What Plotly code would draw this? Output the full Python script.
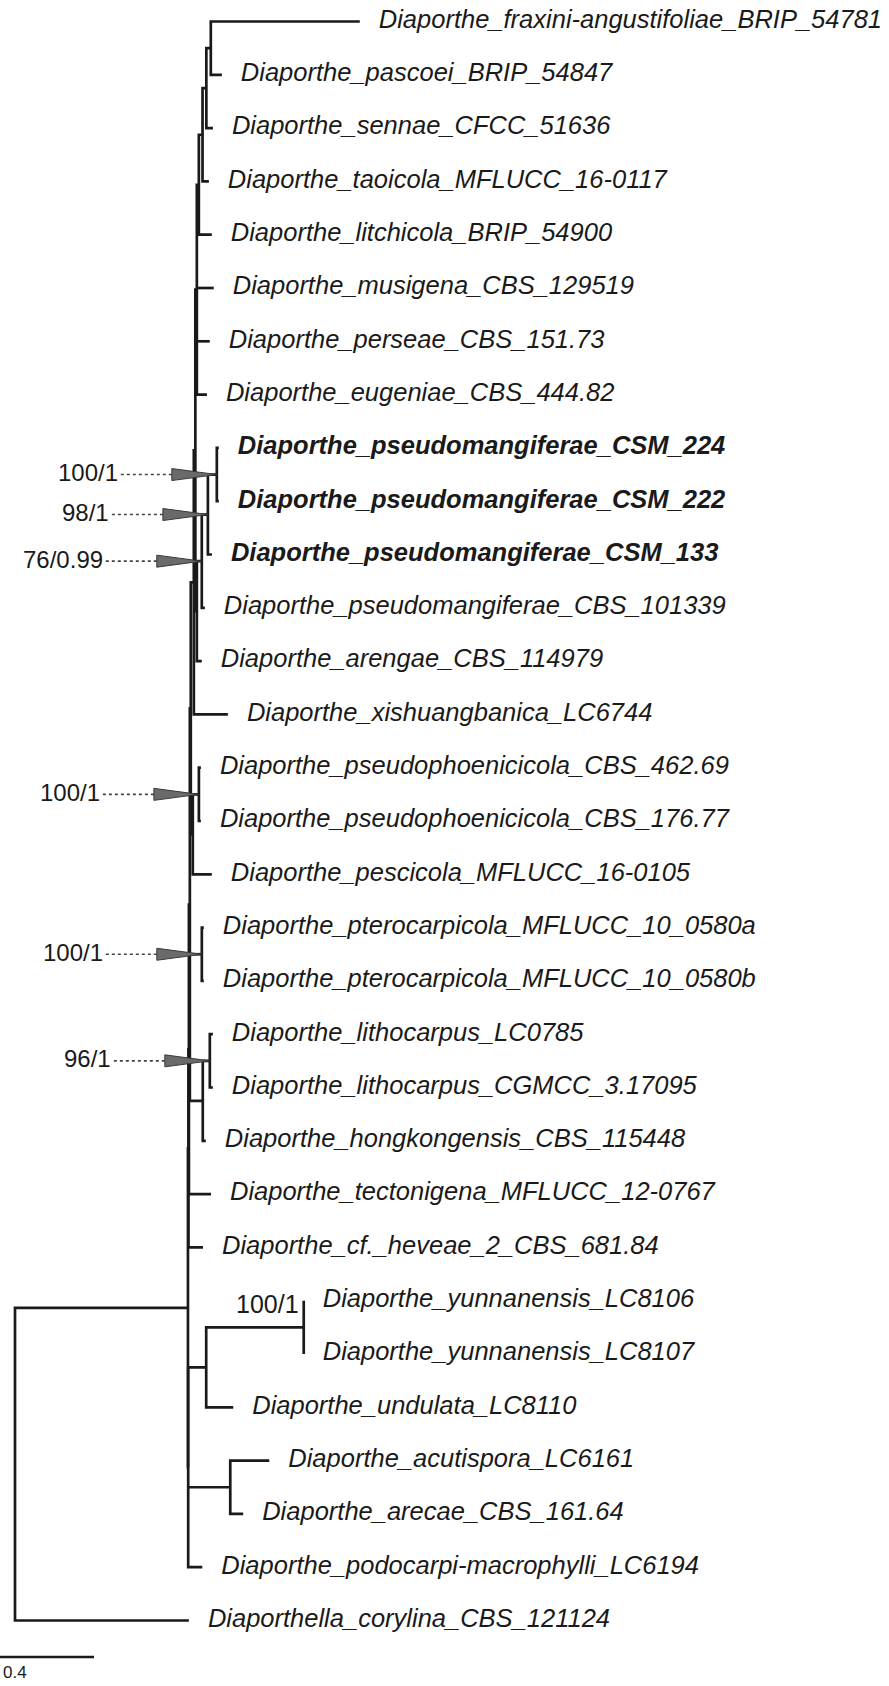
import plotly.graph_objects as go

# ---------------- data ----------------
node_names = [
    "root", "I", "A", "R3", "R2", "R1", "P5", "U", "N4", "N3b", "N3", "N2", "N1",
    "Diaporthe_fraxini-angustifoliae_BRIP_54781", "Diaporthe_pascoei_BRIP_54847",
    "Diaporthe_sennae_CFCC_51636", "Diaporthe_taoicola_MFLUCC_16-0117",
    "Diaporthe_litchicola_BRIP_54900", "Diaporthe_musigena_CBS_129519",
    "Diaporthe_perseae_CBS_151.73", "Diaporthe_eugeniae_CBS_444.82",
    "P4", "P3", "P2", "P1",
    "Diaporthe_pseudomangiferae_CSM_224", "Diaporthe_pseudomangiferae_CSM_222",
    "Diaporthe_pseudomangiferae_CSM_133", "Diaporthe_pseudomangiferae_CBS_101339",
    "Diaporthe_arengae_CBS_114979", "Diaporthe_xishuangbanica_LC6744",
    "Q", "PP", "Diaporthe_pseudophoenicicola_CBS_462.69", "Diaporthe_pseudophoenicicola_CBS_176.77",
    "Diaporthe_pescicola_MFLUCC_16-0105",
    "PT", "Diaporthe_pterocarpicola_MFLUCC_10_0580a", "Diaporthe_pterocarpicola_MFLUCC_10_0580b",
    "L1", "LI", "Diaporthe_lithocarpus_LC0785", "Diaporthe_lithocarpus_CGMCC_3.17095",
    "Diaporthe_hongkongensis_CBS_115448",
    "Diaporthe_tectonigena_MFLUCC_12-0767", "Diaporthe_cf._heveae_2_CBS_681.84",
    "B",
    "YU", "YN", "Diaporthe_yunnanensis_LC8106", "Diaporthe_yunnanensis_LC8107",
    "Diaporthe_undulata_LC8110",
    "AA", "Diaporthe_acutispora_LC6161", "Diaporthe_arecae_CBS_161.64",
    "Diaporthe_podocarpi-macrophylli_LC6194",
    "Diaporthella_corylina_CBS_121124",
]
node_parents = [
    None, "root", "I", "A", "R3", "R2", "R1", "P5", "U", "N4", "N3b", "N3", "N2",
    "N1", "N1",
    "N2", "N3",
    "N3b", "N4",
    "N4", "N4",
    "U", "P4", "P3", "P2",
    "P1", "P1",
    "P2", "P3",
    "P4", "P5",
    "R1", "Q", "PP", "PP",
    "Q",
    "R2", "PT", "PT",
    "R2", "L1", "LI", "LI",
    "L1",
    "R3", "A",
    "I",
    "B", "YU", "YN", "YN",
    "YU",
    "B", "AA", "AA",
    "B",
    "root",
]
branch_lengths = [
    0.0, 0.736, 0.002, 0.002, 0.004, 0.004, 0.013, 0.0064, 0.0064, 0.0085, 0.0157, 0.0162, 0.019,
    0.634, 0.047,
    0.028, 0.027,
    0.055, 0.072,
    0.055, 0.043,
    0.0064, 0.021, 0.026, 0.038,
    0.0085, 0.0085,
    0.017, 0.013,
    0.021, 0.145,
    0.0085, 0.026, 0.0085, 0.0085,
    0.081,
    0.051, 0.0085, 0.0085,
    0.055, 0.030, 0.013, 0.013,
    0.013,
    0.094, 0.062,
    0.001,
    0.0766, 0.415, 0.0, 0.0,
    0.115,
    0.179, 0.166, 0.055,
    0.060,
    0.740,
]
bold_tips = [
    "Diaporthe_pseudomangiferae_CSM_224",
    "Diaporthe_pseudomangiferae_CSM_222",
    "Diaporthe_pseudomangiferae_CSM_133",
]
arrow_support_nodes = ["P1", "P2", "P3", "PP", "PT", "LI"]
arrow_support_labels = ["100/1", "98/1", "76/0.99", "100/1", "100/1", "96/1"]
plain_support_nodes = ["YN"]
plain_support_labels = ["100/1"]
scale_length = 0.4

# ---------------- layout of the tree ----------------
PX = scale_length / 94.0      # data units per screen pixel
ROW = 53.3                    # pixels per leaf row
W, H = 889, 1686

children = {n: [] for n in node_names}
xpos = {}
for n, p, bl in zip(node_names, node_parents, branch_lengths):
    if p is None:
        xpos[n] = 0.0
    else:
        children[p].append(n)
        xpos[n] = xpos[p] + bl

ypos = {}
leaf_order = []


def place(n):
    if not children[n]:
        ypos[n] = len(leaf_order)
        leaf_order.append(n)
        return
    for c in children[n]:
        place(c)
    ypos[n] = (ypos[children[n][0]] + ypos[children[n][-1]]) / 2.0


place("root")

lx, ly = [], []
for n in node_names:
    ch = children[n]
    if not ch:
        continue
    f, l = ch[0], ch[-1]
    lx += [xpos[f], xpos[n], xpos[n], xpos[l], None]
    ly += [ypos[f], ypos[f], ypos[l], ypos[l], None]
    for c in ch[1:-1]:
        lx += [xpos[n], xpos[c], None]
        ly += [ypos[c], ypos[c], None]

fig = go.Figure()
fig.add_trace(go.Scatter(x=lx, y=ly, mode="lines",
                         line=dict(color="#1a1a1a", width=2.7),
                         hoverinfo="skip", showlegend=False))

# tip labels
tx, ty, tt = [], [], []
for n in leaf_order:
    tx.append(xpos[n] + 19 * PX)
    ty.append(ypos[n])
    tt.append("<b><i>%s</i></b>" % n if n in bold_tips else "<i>%s</i>" % n)
fig.add_trace(go.Scatter(x=tx, y=ty, text=tt, mode="text", textposition="middle right",
                         textfont=dict(family="Liberation Sans", size=25.5, color="#1a1a1a"),
                         hoverinfo="skip", showlegend=False))

# support values with arrows
TRI_L = 45 * PX
TRI_H = 6.0 / ROW
for n, lab in zip(arrow_support_nodes, arrow_support_labels):
    x0, y0 = xpos[n], ypos[n]
    fig.add_trace(go.Scatter(x=[x0 - 96 * PX, x0 - TRI_L], y=[y0, y0], mode="lines",
                             line=dict(color="#444444", width=1.6, dash="dot"),
                             hoverinfo="skip", showlegend=False))
    fig.add_trace(go.Scatter(x=[x0 - TRI_L, x0, x0 - TRI_L, x0 - TRI_L],
                             y=[y0 - TRI_H, y0, y0 + TRI_H, y0 - TRI_H],
                             mode="lines", fill="toself", fillcolor="#6a6a6a",
                             line=dict(color="#3a3a3a", width=1),
                             hoverinfo="skip", showlegend=False))
    fig.add_annotation(x=x0 - 97 * PX, y=y0, text=lab, showarrow=False,
                       xanchor="right", yanchor="middle", yshift=2,
                       font=dict(family="Liberation Sans", size=24, color="#1a1a1a"))

for n, lab in zip(plain_support_nodes, plain_support_labels):
    fig.add_annotation(x=xpos[n], y=ypos[n], text=lab, showarrow=False,
                       xanchor="right", yanchor="bottom", xshift=-3, yshift=7,
                       font=dict(family="Liberation Sans", size=25, color="#1a1a1a"))

# scale bar
x_left = -15 * PX
sb_y = (1657 - 21.5) / ROW
fig.add_trace(go.Scatter(x=[x_left, x_left + scale_length], y=[sb_y, sb_y], mode="lines",
                         line=dict(color="#1a1a1a", width=2.7),
                         hoverinfo="skip", showlegend=False))
fig.add_annotation(x=x_left, y=(1672 - 21.5) / ROW, text=str(scale_length), showarrow=False,
                   xanchor="left", yanchor="middle", xshift=1,
                   font=dict(family="Liberation Sans", size=17, color="#1a1a1a"))

fig.update_layout(
    width=W, height=H, margin=dict(l=0, r=0, t=0, b=0),
    paper_bgcolor="white", plot_bgcolor="white",
    xaxis=dict(range=[x_left, x_left + W * PX], visible=False, fixedrange=True),
    yaxis=dict(range=[(H - 21.5) / ROW, -21.5 / ROW], visible=False, fixedrange=True),
)

fig.write_html("out.html", post_script="document.body.style.margin='0';",
               config={"displayModeBar": False})
